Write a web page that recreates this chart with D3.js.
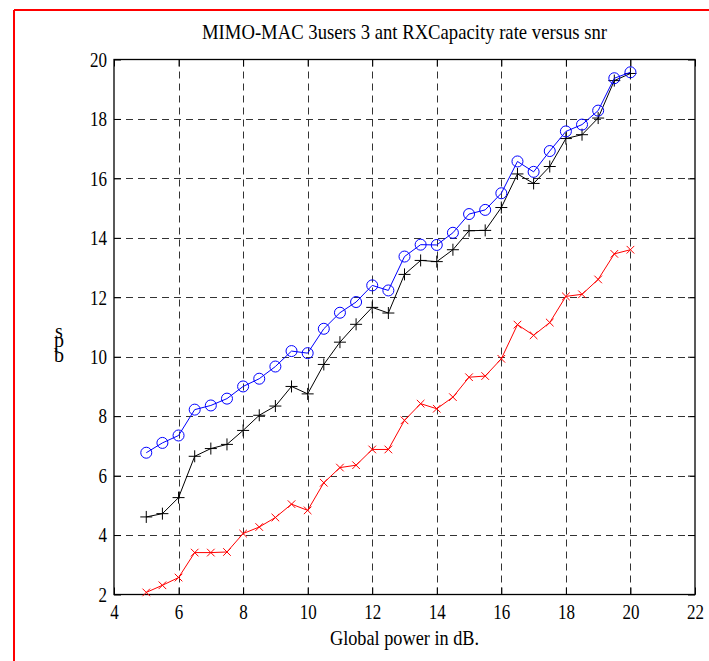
<!DOCTYPE html>
<html>
<head>
<meta charset="utf-8">
<script src="https://cdn.jsdelivr.net/npm/d3@7"></script>
<style>
  html, body { margin: 0; padding: 0; background: #fff; }
  svg { display: block; }
  text { font-family: "Liberation Serif", "Times New Roman", serif; fill: #000; }
</style>
</head>
<body>
<script>
// ---- data ----
const snr = [5, 5.5, 6, 6.5, 7, 7.5, 8, 8.5, 9, 9.5, 10, 10.5, 11, 11.5, 12, 12.5,
             13, 13.5, 14, 14.5, 15, 15.5, 16, 16.5, 17, 17.5, 18, 18.5, 19, 19.5, 20];
const blueSeries = [6.77, 7.1, 7.35, 8.22, 8.36, 8.59, 9.0, 9.26, 9.67, 10.19, 10.12, 10.94,
                    11.48, 11.84, 12.4, 12.23, 13.37, 13.77, 13.76, 14.17, 14.8, 14.94, 15.5,
                    16.57, 16.22, 16.92, 17.58, 17.81, 18.28, 19.37, 19.57];
const blackSeries = [4.61, 4.72, 5.26, 6.65, 6.91, 7.05, 7.52, 8.03, 8.34, 9.0, 8.75, 9.74,
                     10.49, 11.09, 11.66, 11.47, 12.77, 13.24, 13.2, 13.6, 14.24, 14.25, 15.02,
                     16.15, 15.83, 16.4, 17.34, 17.47, 18.03, 19.29, 19.53];
const redSeries = [2.07, 2.31, 2.57, 3.41, 3.41, 3.43, 4.05, 4.27, 4.59, 5.04, 4.83, 5.76,
                   6.27, 6.35, 6.88, 6.88, 7.86, 8.42, 8.25, 8.64, 9.31, 9.35, 9.93,
                   11.08, 10.72, 11.15, 12.03, 12.1, 12.6, 13.46, 13.6];
const xTicks = [4, 6, 8, 10, 12, 14, 16, 18, 20, 22];
const yTicks = [2, 4, 6, 8, 10, 12, 14, 16, 18, 20];
const titleText = "MIMO-MAC 3users 3 ant RXCapacity rate versus snr";
const xLabelText = "Global power in dB.";
const yLabelLetters = ["s", "p", "b"];

// ---- layout ----
const W = 709, H = 661;
const L = 114, R = 695, T = 59.5, B = 594.5;

const svg = d3.select("body").append("svg").attr("width", W).attr("height", H);
svg.append("rect").attr("width", W).attr("height", H).attr("fill", "#fff");

// red outer frame (only top and left visible)
svg.append("line").attr("x1", 14).attr("x2", W + 5).attr("y1", 10).attr("y2", 10)
  .attr("stroke", "#ff0000").attr("stroke-width", 2);
svg.append("line").attr("x1", 14).attr("x2", 14).attr("y1", 10).attr("y2", H + 5)
  .attr("stroke", "#ff0000").attr("stroke-width", 2);

const x = d3.scaleLinear().domain([4, 22]).range([L, R]);
const y = d3.scaleLinear().domain([2, 20]).range([B, T]);

function condense(sel, f) {
  sel.each(function () {
    const len = this.getComputedTextLength();
    d3.select(this).attr("textLength", len * f).attr("lengthAdjust", "spacingAndGlyphs");
  });
}

// grid
const grid = svg.append("g");
grid.selectAll("line.v").data(xTicks.filter(d => d > 4 && d < 22)).join("line")
  .attr("x1", d => Math.round(x(d)) + 0.5).attr("x2", d => Math.round(x(d)) + 0.5)
  .attr("y1", T).attr("y2", B)
  .attr("stroke", "#333").attr("stroke-width", 1).attr("stroke-dasharray", "7,5");
grid.selectAll("line.h").data(yTicks.filter(d => d > 2 && d < 20)).join("line")
  .attr("y1", d => Math.round(y(d)) + 0.5).attr("y2", d => Math.round(y(d)) + 0.5)
  .attr("x1", L).attr("x2", R)
  .attr("stroke", "#333").attr("stroke-width", 1).attr("stroke-dasharray", "7,5");

// axes
const fs = 20;
const gB = svg.append("g").attr("transform", `translate(0,${B})`)
  .call(d3.axisBottom(x).tickValues(xTicks).tickFormat(d3.format("d")).tickSizeInner(-7).tickSizeOuter(0).tickPadding(9));
const gL = svg.append("g").attr("transform", `translate(${L},0)`)
  .call(d3.axisLeft(y).tickValues(yTicks).tickFormat(d3.format("d")).tickSizeInner(-7).tickSizeOuter(0).tickPadding(7));
const gT = svg.append("g").attr("transform", `translate(0,${T})`)
  .call(d3.axisTop(x).tickValues(xTicks).tickFormat("").tickSizeInner(-7).tickSizeOuter(0));
const gR = svg.append("g").attr("transform", `translate(${R},0)`)
  .call(d3.axisRight(y).tickValues(yTicks).tickFormat("").tickSizeInner(-7).tickSizeOuter(0));
[gB, gL, gT, gR].forEach(g => {
  g.select(".domain").remove();
  g.selectAll("line").attr("stroke", "#000");
  g.selectAll("text").attr("font-size", fs).attr("font-family", "Liberation Serif, serif").attr("fill", "#000");
});
gB.selectAll("text").attr("dy", null).attr("y", 24);
gL.selectAll("text").attr("dy", "0.34em");
condense(gB.selectAll("text"), 0.85);
condense(gL.selectAll("text"), 0.85);

// frame
svg.append("rect").attr("x", L).attr("y", T).attr("width", R - L).attr("height", B - T)
  .attr("fill", "none").attr("stroke", "#000").attr("stroke-width", 1.3);

// series
const line = d3.line().x((d, i) => x(snr[i])).y(d => y(d));

function drawLine(vals, color) {
  svg.append("path").datum(vals).attr("d", line)
    .attr("fill", "none").attr("stroke", color).attr("stroke-width", 1);
}

// black plus
drawLine(blackSeries, "#000");
svg.append("g").selectAll("path").data(blackSeries).join("path")
  .attr("d", (d, i) => {
    const cx = x(snr[i]), cy = y(d), s = 6;
    return `M${cx - s},${cy}H${cx + s}M${cx},${cy - s}V${cy + s}`;
  })
  .attr("stroke", "#000").attr("stroke-width", 1).attr("fill", "none");

// blue circles
drawLine(blueSeries, "#0000ff");
svg.append("g").selectAll("circle").data(blueSeries).join("circle")
  .attr("cx", (d, i) => x(snr[i])).attr("cy", d => y(d)).attr("r", 5.5)
  .attr("fill", "none").attr("stroke", "#0000ff").attr("stroke-width", 1);

// red x
drawLine(redSeries, "#ff0000");
svg.append("g").selectAll("path").data(redSeries).join("path")
  .attr("d", (d, i) => {
    const cx = x(snr[i]), cy = y(d), s = 3.8;
    return `M${cx - s},${cy - s}L${cx + s},${cy + s}M${cx - s},${cy + s}L${cx + s},${cy - s}`;
  })
  .attr("stroke", "#ff0000").attr("stroke-width", 1).attr("fill", "none");

// title
const title = svg.append("text").attr("x", (L + R) / 2).attr("y", 39)
  .attr("text-anchor", "middle").attr("font-size", 21).text(titleText);
title.attr("textLength", 405).attr("lengthAdjust", "spacingAndGlyphs");

// x label
svg.append("text").attr("x", (L + R) / 2).attr("y", 645)
  .attr("text-anchor", "middle").attr("font-size", 21).text(xLabelText)
  .attr("textLength", 149).attr("lengthAdjust", "spacingAndGlyphs");

// y label (stacked letters)
const yBase = [338, 347, 362];
svg.append("g").selectAll("text").data(yLabelLetters).join("text")
  .attr("x", 59).attr("y", (d, i) => yBase[i])
  .attr("text-anchor", "middle").attr("font-size", 20).text(d => d);
</script>
</body>
</html>
